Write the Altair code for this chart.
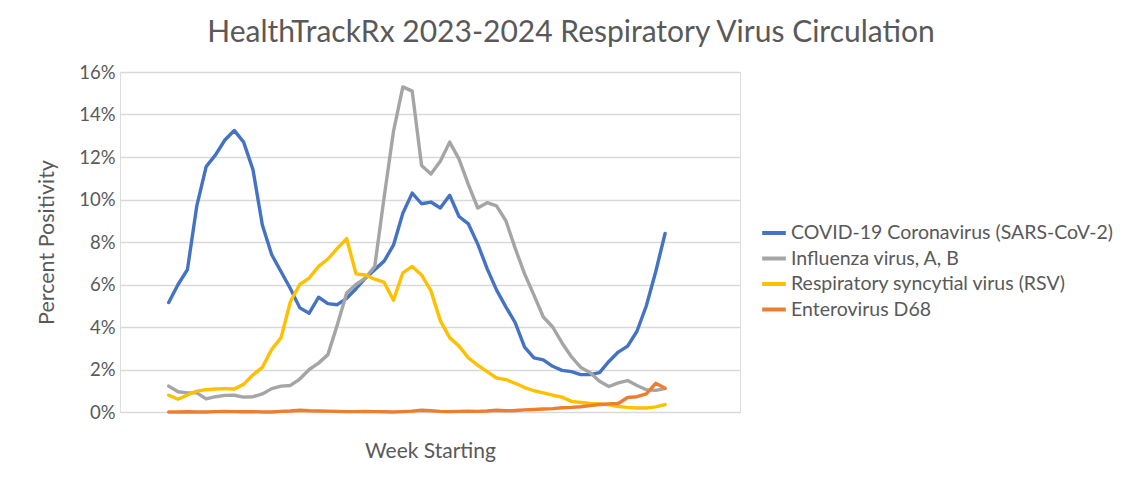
import altair as alt
import pandas as pd

weeks = list(range(54))

covid = [5.15, 6.0, 6.7, 9.7, 11.55, 12.1, 12.8, 13.25, 12.7, 11.4,
         8.8, 7.4, 6.6, 5.8, 4.9, 4.65, 5.4, 5.1, 5.05, 5.35,
         5.8, 6.3, 6.7, 7.1, 7.85, 9.35, 10.3, 9.8, 9.88, 9.6,
         10.2, 9.2, 8.85, 7.9, 6.75, 5.75, 4.95, 4.2, 3.05, 2.55,
         2.45, 2.15, 1.96, 1.9, 1.76, 1.76, 1.85, 2.38, 2.82, 3.1,
         3.8, 5.0, 6.6, 8.4]

flu = [1.22, 0.95, 0.9, 0.9, 0.62, 0.72, 0.78, 0.79, 0.7, 0.72,
       0.85, 1.1, 1.22, 1.25, 1.55, 2.0, 2.3, 2.7, 4.1, 5.6,
       6.0, 6.3, 6.85, 10.1, 13.2, 15.3, 15.1, 11.6, 11.2, 11.8,
       12.7, 11.9, 10.7, 9.6, 9.85, 9.7, 9.0, 7.7, 6.5, 5.5,
       4.47, 4.0, 3.25, 2.6, 2.1, 1.85, 1.45, 1.2, 1.37, 1.48,
       1.25, 1.05, 1.02, 1.1]

rsv = [0.79, 0.6, 0.8, 0.98, 1.05, 1.08, 1.1, 1.08, 1.3, 1.75,
       2.1, 2.95, 3.5, 5.2, 6.0, 6.3, 6.85, 7.2, 7.7, 8.16,
       6.5, 6.45, 6.25, 6.1, 5.26, 6.55, 6.85, 6.45, 5.7, 4.3,
       3.5, 3.1, 2.55, 2.2, 1.9, 1.6, 1.52, 1.35, 1.15, 1.0,
       0.9, 0.79, 0.7, 0.5, 0.45, 0.4, 0.38, 0.34, 0.26, 0.22,
       0.19, 0.19, 0.24, 0.35]

ev_d68 = [0.0, 0.0, 0.01, 0.0, 0.0, 0.02, 0.03, 0.02, 0.01, 0.02,
          0.0, 0.0, 0.03, 0.05, 0.08, 0.06, 0.05, 0.04, 0.03, 0.02,
          0.02, 0.03, 0.02, 0.01, 0.0, 0.02, 0.04, 0.08, 0.06, 0.03,
          0.02, 0.03, 0.04, 0.03, 0.05, 0.08, 0.06, 0.07, 0.1, 0.12,
          0.14, 0.16, 0.2, 0.22, 0.25, 0.3, 0.35, 0.38, 0.4, 0.68,
          0.72, 0.85, 1.35, 1.12]

series_names = ["COVID-19 Coronavirus (SARS-CoV-2)", "Influenza virus, A, B",
                "Respiratory syncytial virus (RSV)", "Enterovirus D68"]
series_colors = ["#4472C4", "#A5A5A5", "#FFC000", "#ED7D31"]
y_ticks = [0, 2, 4, 6, 8, 10, 12, 14, 16]

rows = []
for name, vals in zip(series_names, [covid, flu, rsv, ev_d68]):
    for w, v in zip(weeks, vals):
        rows.append({"week": w, "value": v / 100.0, "series": name})
df = pd.DataFrame(rows)

FONT = "Lato"
GREY = "#595959"

chart = alt.Chart(df).mark_line(strokeWidth=3.4, strokeJoin="round", strokeCap="round").encode(
    x=alt.X("week:Q", scale=alt.Scale(domain=[-5.2, 61.0], nice=False, zero=False),
            axis=alt.Axis(title="Week Starting", labels=False, ticks=False, domain=False,
                          grid=False, titleFont=FONT, titleFontSize=21, titleFontWeight="normal",
                          titleColor=GREY, titlePadding=28)),
    y=alt.Y("value:Q", scale=alt.Scale(domain=[0, 0.16], nice=False),
            axis=alt.Axis(title="Percent Positivity", format=".0%", values=[t / 100 for t in y_ticks],
                          ticks=False, domain=False, gridColor="#D9D9D9", gridWidth=1.5,
                          labelFont=FONT, labelFontSize=18.5, labelColor=GREY, labelPadding=5,
                          titleFont=FONT, titleFontSize=21.5, titleFontWeight="normal",
                          titleColor=GREY, titlePadding=20)),
    color=alt.Color("series:N", scale=alt.Scale(domain=series_names, range=series_colors),
                    sort=series_names,
                    legend=alt.Legend(title=None, orient="none", legendX=640, legendY=147,
                                      symbolType="stroke", symbolStrokeWidth=4, symbolSize=560,
                                      labelFont=FONT, labelFontSize=19.5, labelColor=GREY,
                                      rowPadding=1.5, labelOffset=3, labelLimit=400)),
).properties(
    width=620, height=340,
    title=alt.TitleParams("HealthTrackRx 2023-2024 Respiratory Virus Circulation",
                          font=FONT, fontSize=30, fontWeight="normal", color=GREY,
                          anchor="middle", dx=141, offset=15.5),
    padding={"left": 112, "top": 64, "right": 376, "bottom": 65},
    autosize=alt.AutoSizeParams(type="none"),
).configure_view(stroke=None).configure(background="white")

chart.save("out.html", embed_options={"renderer": "svg", "actions": False})
